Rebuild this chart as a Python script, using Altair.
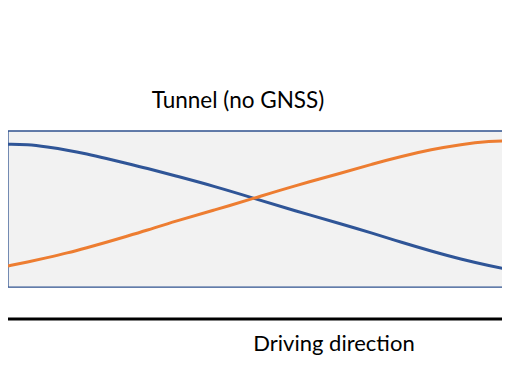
import altair as alt
import pandas as pd

# Position along the tunnel (% of drawn length)
pos = [0, 3.9, 7.8, 11.8, 15.7, 19.6, 23.5, 27.5, 33.3, 41.2, 49.0, 56.9,
       66.7, 72.5, 78.4, 84.3, 90.2, 96.1, 100]
# Blue series (decreasing)
blue_vals = [91.5, 91.5, 89.8, 87.8, 85.3, 82.4, 79.4, 76.3, 71.3, 64.5, 56.9,
             49.1, 40.2, 34.6, 28.6, 23.0, 17.8, 13.5, 10.9]
# Orange series (increasing)
orange_vals = [13.5, 16.0, 18.8, 21.8, 25.2, 28.7, 32.4, 36.2, 42.2, 49.4, 56.9,
               64.7, 73.3, 78.8, 83.8, 88.1, 91.5, 93.5, 93.8]
series_names = ["blue", "orange"]
series_colors = ["#2F5597", "#ED7D31"]
title_text = ["Tunnel (no GNSS)"]
direction_text = ["Driving direction"]

W, H = 494, 360
FONT = "Lato"

df = pd.DataFrame({
    "pos": pos * 2,
    "val": blue_vals + orange_vals,
    "series": [series_names[0]] * len(pos) + [series_names[1]] * len(pos),
})

# the drawn tunnel runs on past the visible right edge (as in the reference)
xs = alt.Scale(domain=[0, 100 * W / 502], nice=False, zero=False)
ys = alt.Scale(domain=[-51.9, 178.85], nice=False, zero=False)

box_df = pd.DataFrame({"x0": [0], "x1": [104], "y0": [0], "y1": [100]})
box = alt.Chart(box_df).mark_rect(
    fill="#F2F2F2", stroke="#2F528F", strokeWidth=1.3
).encode(
    x=alt.X("x0:Q", scale=xs, axis=None),
    x2="x1:Q",
    y=alt.Y("y0:Q", scale=ys, axis=None),
    y2="y1:Q",
)

lines = alt.Chart(df).mark_line(strokeWidth=3, interpolate="basis").encode(
    x=alt.X("pos:Q", scale=xs, axis=None),
    y=alt.Y("val:Q", scale=ys, axis=None),
    color=alt.Color("series:N",
                    scale=alt.Scale(domain=series_names, range=series_colors),
                    legend=None),
)

title = alt.Chart(pd.DataFrame({"t": title_text})).mark_text(
    font=FONT, fontSize=22.5, color="#000000", align="center", baseline="middle"
).encode(text="t:N", x=alt.value(230), y=alt.value(93))

ground = alt.Chart(pd.DataFrame({"t": direction_text})).mark_rule(
    color="#000000", strokeWidth=3
).encode(x=alt.value(-10), x2=alt.value(W + 10), y=alt.value(311))

direction = alt.Chart(pd.DataFrame({"t": direction_text})).mark_text(
    font=FONT, fontSize=22, color="#000000", align="center", baseline="middle"
).encode(text="t:N", x=alt.value(326), y=alt.value(336))

chart = alt.layer(box, lines, title, ground, direction).properties(
    width=W, height=H,
    autosize=alt.AutoSizeParams(type="none"),
    padding=0,
).configure_view(stroke=None)

chart.save("out.html", embed_options={"renderer": "svg", "actions": False})
